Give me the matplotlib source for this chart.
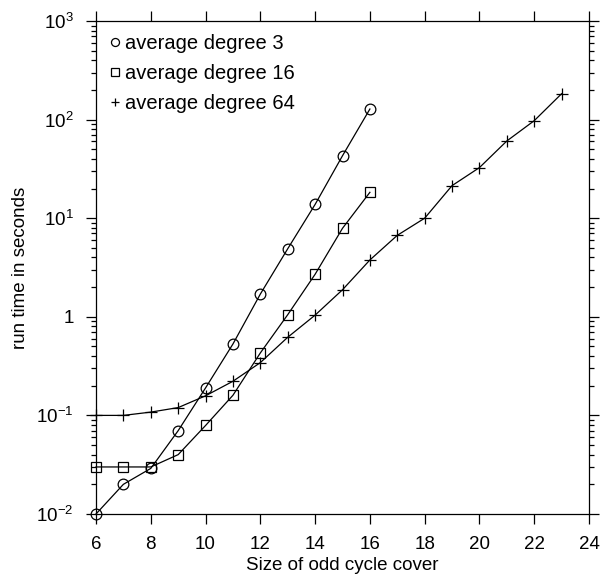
import math
import matplotlib
matplotlib.use("Agg")
from matplotlib import pyplot as plt
from matplotlib.ticker import FixedLocator, LogLocator, NullLocator, FuncFormatter

# odd cycle cover size vs run time (s)
x_deg3 = [6, 7, 8, 9, 10, 11, 12, 13, 14, 15, 16]
t_deg3 = [0.01, 0.02, 0.029, 0.07, 0.19, 0.53, 1.7, 4.9, 13.8, 43, 128]

x_deg16 = [6, 7, 8, 9, 10, 11, 12, 13, 14, 15, 16]
t_deg16 = [0.03, 0.03, 0.03, 0.04, 0.079, 0.16, 0.43, 1.05, 2.7, 7.9, 18.3]

x_deg64 = [6, 7, 8, 9, 10, 11, 12, 13, 14, 15, 16, 17, 18, 19, 20, 21, 22, 23]
t_deg64 = [0.1, 0.1, 0.108, 0.12, 0.158, 0.222, 0.343, 0.62, 1.04, 1.88, 3.77,
           6.7, 10, 21.4, 32.6, 60.7, 97.5, 183]

labels = ["average degree 3", "average degree 16", "average degree 64"]
xticks = [6, 8, 10, 12, 14, 16, 18, 20, 22, 24]


def ylabel_fmt(v, pos):
    if abs(v - 1) < 1e-9:
        return "1"
    e = int(round(math.log10(v)))
    return r"$\mathregular{10^{%d}}$" % e


def main():
    plt.rcParams["font.family"] = ["Liberation Sans", "DejaVu Sans"]
    plt.rcParams["font.size"] = 13.5

    fig = plt.figure(figsize=(6.03, 5.81), dpi=100)
    ax = fig.add_axes([96 / 603, 1 - 514 / 581, (589 - 96) / 603, (514 - 21) / 581])

    kw = dict(color="black", linewidth=0.9, fillstyle="none", markeredgewidth=0.9,
              clip_on=False)
    ax.plot(x_deg3, t_deg3, marker="o", markersize=7.7, label=labels[0], **kw)
    ax.plot(x_deg16, t_deg16, marker="s", markersize=7, label=labels[1], **kw)
    ax.plot(x_deg64, t_deg64, marker="+", markersize=8, label=labels[2], **kw)

    ax.set_yscale("log")
    ax.set_xlim(6, 24)
    ax.set_ylim(0.01, 1000)
    ax.xaxis.set_major_locator(FixedLocator(xticks))
    ax.xaxis.set_minor_locator(NullLocator())
    ax.yaxis.set_major_locator(LogLocator(base=10, numticks=10))
    ax.yaxis.set_minor_locator(LogLocator(base=10, subs=range(2, 10), numticks=20))
    ax.yaxis.set_major_formatter(FuncFormatter(ylabel_fmt))

    ax.tick_params(which="both", direction="out", top=True, right=True,
                   labeltop=False, labelright=False, width=0.9)
    ax.tick_params(which="major", length=7, pad=9)
    ax.tick_params(which="minor", length=3.6)
    for s in ax.spines.values():
        s.set_linewidth(0.9)

    ax.set_xlabel("Size of odd cycle cover", labelpad=3)
    ax.set_ylabel("run time in seconds", labelpad=5)

    leg = ax.legend(loc="upper left", frameon=False, handlelength=0.55,
                    handletextpad=0.25, labelspacing=0.55, borderaxespad=0.25,
                    fontsize=14.5, markerscale=0.75)
    for h in leg.legend_handles:
        h.set_linestyle("none")

    fig.savefig("out.png", dpi=100)


if __name__ == "__main__":
    main()
